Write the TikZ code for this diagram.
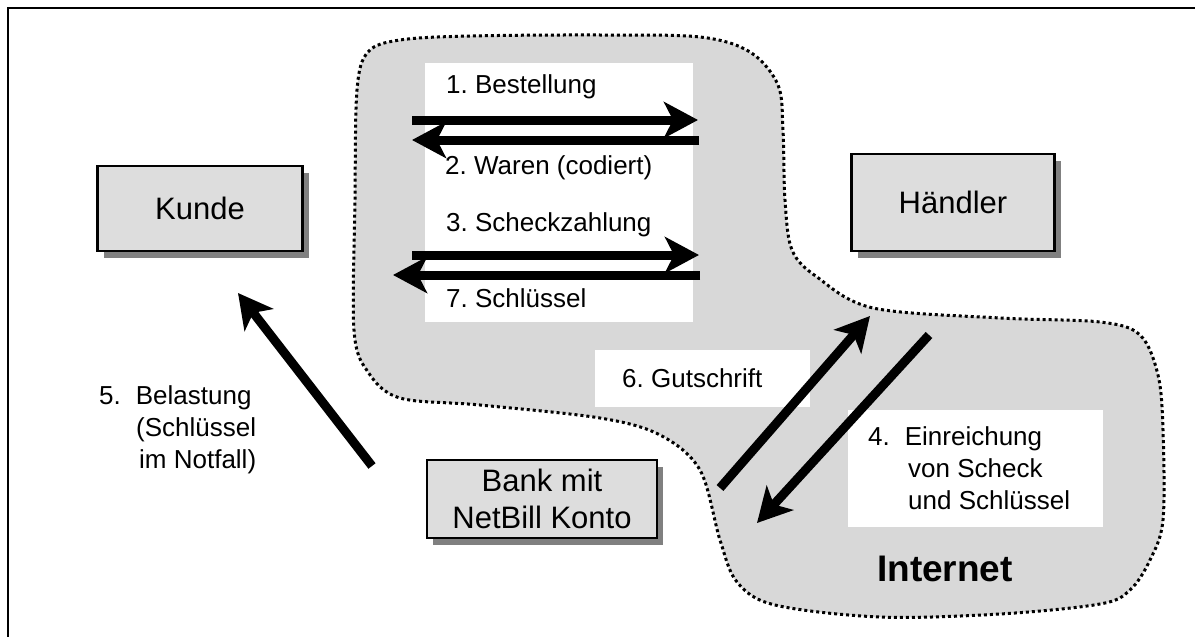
\documentclass[tikz,border=0pt]{standalone}
\usepackage{fontspec}
\setmainfont{Liberation Sans}
\usetikzlibrary{arrows.meta,shadows}
\frenchspacing

\definecolor{boxgray}{HTML}{DDDDDD}
\definecolor{netgray}{HTML}{D8D8D8}
\definecolor{shadowgray}{HTML}{808080}

\tikzset{
  party/.style={draw, line width=2.5pt, fill=boxgray, rectangle, inner sep=0pt, align=center,
    font=\fontsize{31}{37}\selectfont,
    drop shadow={shadow xshift=6pt, shadow yshift=-7pt, fill=shadowgray, opacity=1}},
  msgtext/.style={inner sep=0pt, align=left, font=\fontsize{26}{32}\selectfont},
  flow/.style={line width=9pt, -{Stealth[length=34pt, width=36pt, inset=9pt]}},
}

\begin{document}
\begin{tikzpicture}[x=1pt, y=-1pt]
\useasboundingbox (0,0) rectangle (1195,637);

% Rahmen
\draw[line width=2.5pt] (8,637) -- (8,8) -- (1195,8);

% Internet
\draw[fill=netgray, line width=3pt, dash pattern=on 3pt off 3pt]
  plot[smooth cycle, tension=0.55] coordinates {
    (357,90) (368,52) (400,40) (470,36) (600,35) (700,37) (750,52) (778,85)
    (783,130) (785,200) (792,250) (817,277) (873,308) (1000,318) (1100,322)
    (1140,335) (1158,375) (1163,430) (1163,520) (1150,560) (1130,590) (1100,604)
    (1000,614) (880,617) (775,605) (737,582) (720,540) (700,470) (660,435)
    (600,418) (480,405) (400,398) (368,372) (354,330) (355,200)};
\node[inner sep=0pt, font=\fontsize{37}{40}\selectfont\bfseries] (net) at (945,569) {Internet};

% weisse Felder
\fill[white] (425,63) rectangle (693,322);
\fill[white] (595,350) rectangle (810,407);
\fill[white] (848,410) rectangle (1103,527);

% Beschriftungen
\node[msgtext, anchor=west] (m1) at (446,87) {1. Bestellung};
\node[msgtext, anchor=west] (m2) at (445,168) {2. Waren (codiert)};
\node[msgtext, anchor=west] (m3) at (446,225) {3. Scheckzahlung};
\node[msgtext, anchor=west] (m7) at (446,298) {7. Schlüssel};
\node[msgtext, anchor=west] (m6) at (622,378) {6. Gutschrift};
\node[msgtext, anchor=west] (m4) at (868,468)
  {4.\hspace{15pt}Einreichung\\\hspace{40pt}von Scheck\\\hspace{40pt}und Schlüssel};
\node[msgtext, anchor=west] (m5) at (99,430)
  {5.\hspace{15pt}Belastung\\\hspace{37pt}(Schlüssel\\\hspace{40pt}im Notfall)};

% Beteiligte
\node[party, minimum width=205pt, minimum height=85pt] (kunde) at (200,208.5) {Kunde};
\node[party, minimum width=203pt, minimum height=97pt] (haendler) at (953,202.5) {Händler};
\node[party, minimum width=230pt, minimum height=78pt] (bank) at (542,499) {Bank mit\\NetBill Konto};

% Pfeile
\coordinate (a1s) at (412,120); \coordinate (a1e) at (698,120);
\coordinate (a2s) at (699,140); \coordinate (a2e) at (412,140);
\coordinate (a3s) at (412,255); \coordinate (a3e) at (699,255);
\coordinate (a7s) at (700,275); \coordinate (a7e) at (393,275);
\coordinate (a5s) at (372,466); \coordinate (a5e) at (238,293);
\coordinate (a6s) at (720,488); \coordinate (a6e) at (870,316);
\coordinate (a4s) at (929,335); \coordinate (a4e) at (757,523);
\draw[flow] (a1s) -- (a1e);
\draw[flow] (a2s) -- (a2e);
\draw[flow] (a3s) -- (a3e);
\draw[flow] (a7s) -- (a7e);
\draw[flow] (a5s) -- (a5e);
\draw[flow] (a6s) -- (a6e);
\draw[flow] (a4s) -- (a4e);
\end{tikzpicture}
\end{document}
